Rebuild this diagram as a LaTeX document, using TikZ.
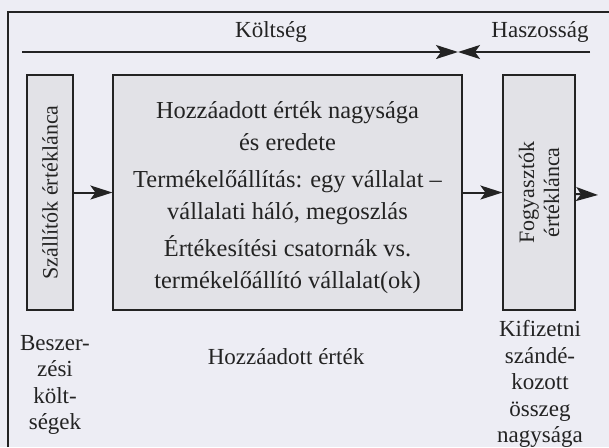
\documentclass[tikz,border=0pt]{standalone}
\usepackage{fontspec}
\setmainfont{Liberation Serif}
\usetikzlibrary{arrows.meta}
\definecolor{bgpaper}{RGB}{237,237,244}
\definecolor{boxfill}{RGB}{226,226,231}
\definecolor{inkline}{RGB}{35,35,35}
\tikzset{
  chainbox/.style={draw=inkline, fill=boxfill, line width=0.6pt, inner sep=0pt, minimum height=117.5pt},
  flow/.style={-{Stealth[length=11pt,width=7pt,inset=2.5pt]}, line width=1pt, draw=inkline},
  txt/.style={font=\fontsize{11.5}{13.3}\selectfont, text=inkline, align=center, inner sep=0pt}
}
\begin{document}
\begin{tikzpicture}[x=0.5pt,y=-0.5pt]
	\fill[bgpaper] (0,0) rectangle (609,447);
	\useasboundingbox (0,0) rectangle (609,447);
	
	% frame
	\draw[inkline, line width=0.8pt] (8,447) -- (8,12) -- (609,12);
	
	% cost / profit line
	\coordinate (costL) at (22,52);
	\coordinate (meet) at (458,52);
	\coordinate (profR) at (590,52);
	\draw[flow] (costL) -- (meet);
	\draw[flow] (profR) -- (meet);
	\node[txt] (cost) at (271,32) {Költség};
	\node[txt] (profit) at (540,32) {Haszosság};
	
	% value chain boxes
	\node[chainbox, minimum width=23pt] (sup) at (50,192.5) {};
	\node[chainbox, minimum width=174.5pt] (mid) at (287.5,192.5) {};
	\node[chainbox, minimum width=36pt] (cons) at (539,192.5) {};
	
	\node[txt, rotate=90, font=\fontsize{11}{13}\selectfont] (supT) at (sup) {Szállítók értéklánca};
	\node[txt, rotate=90, font=\fontsize{11}{12.5}\selectfont] (consT) at (cons) {Fogyasztók\\értéklánca};
	\node[txt, font=\fontsize{12.2}{16}\selectfont] (midT) at (287.5,198)
	{Hozzáadott érték nagysága\\és eredete\\[2.5pt]
	 Termékelőállítás: egy vállalat –\\vállalati háló, megoszlás\\[2.5pt]
	 Értékesítési csatornák vs.\\termékelőállító vállalat(ok)};
	
	\coordinate (out) at (598,195);
	\draw[flow] (sup) -- (mid);
	\draw[flow] (mid) -- (cons);
	\draw[flow] (cons) -- (out);
	
	% bottom labels
	\node[txt] (supB) at (55,385) {Beszer-\\zési\\költ-\\ségek};
	\node[txt] (midB) at (286,357) {Hozzáadott érték};
	\node[txt] (consB) at (540,384) {Kifizetni\\szándé-\\kozott\\összeg\\nagysága};
\end{tikzpicture}
\end{document}
